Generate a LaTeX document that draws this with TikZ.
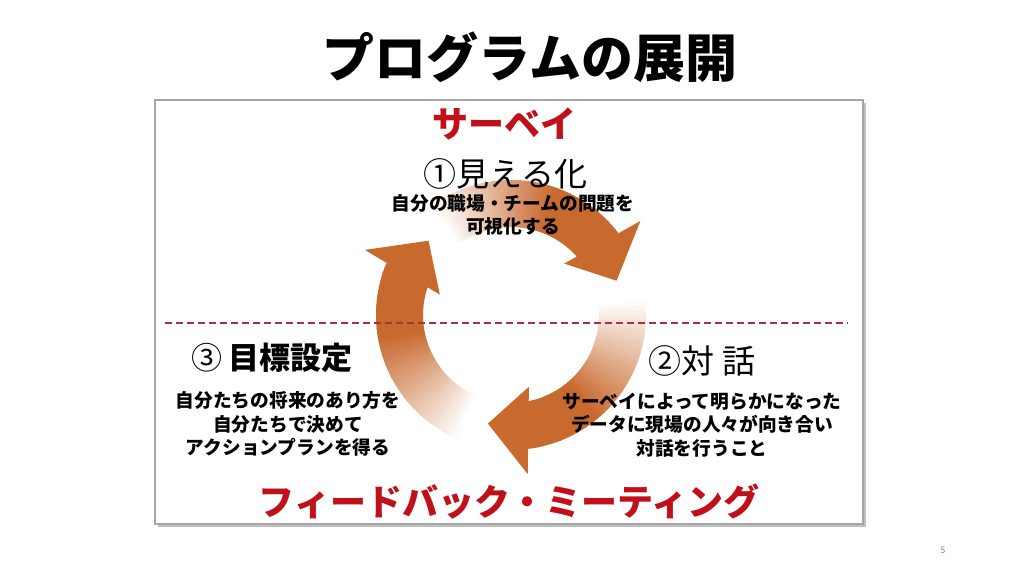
\documentclass[tikz,border=0pt]{standalone}
\usepackage{fontspec}
\newfontfamily\jp{Noto Sans CJK JP}
\newfontfamily\pagefont{Carlito}
\usepackage{xcolor}

\definecolor{arroworange}{RGB}{200,105,46}
\definecolor{labelred}{RGB}{192,16,26}
\definecolor{linered}{RGB}{170,50,60}

\tikzset{
    heading/.style={font=\jp\bfseries\fontsize{52}{58}\selectfont},
    phase/.style={font=\jp\bfseries\fontsize{36}{42}\selectfont, text=labelred},
    stepname/.style={font=\jp\fontsize{33}{38}\selectfont},
    steptext/.style={font=\jp\bfseries\fontsize{18.7}{23.5}\selectfont, align=center},
    pagenum/.style={font=\pagefont\fontsize{10}{12}\selectfont, text=gray}
}

\begin{document}
\begin{tikzpicture}[x=1pt, y=1pt]
        \useasboundingbox (0,0) rectangle (1024,576);
        \fill[gray!50] (158,49) rectangle (866,473);
        \draw[gray!70, fill=white, line width=1.5pt] (155,52) rectangle (863,476);

        \begin{scope}[shift={(511,261)}]
            \foreach \tl/\bs in {128/40, 8/-80, 248/160} {
                \foreach \n [evaluate=\n as \sa using \tl-2*\n,
                             evaluate=\n as \ea using \tl-2*\n-2.6,
                             evaluate=\n as \pc using {min(100,3.5*\n)}] in {0,...,44}
                    \fill[arroworange!\pc!white] (\sa:88pt) arc[start angle=\sa, end angle=\ea, radius=88pt]
                        -- (\ea:135pt) arc[start angle=\ea, end angle=\sa, radius=135pt] -- cycle;
                \fill[arroworange] (\bs+4:74pt) -- (\bs-22:111pt) -- (\bs-4:160pt) -- cycle;
            }
        \end{scope}

        \coordinate (dashL) at (165,253);
        \coordinate (dashR) at (848,253);
        \draw[linered, line width=2pt, dash pattern=on 7pt off 4pt] (dashL) -- (dashR);

        \node[heading]  (title)     at (530,519) {プログラムの展開};
        \node[phase]    (survey)    at (504,452) {サーベイ};
        \node[stepname] (see)       at (505,402) {①見える化};
        \node[steptext] (seetext)   at (513,361) {自分の職場・チームの問題を\\可視化する};
        \node[stepname, font=\jp\fontsize{31}{36}\selectfont] (goal) at (272,218) {③ {\bfseries 目標設定}};
        \node[steptext] (goaltext)  at (288,152) {自分たちの将来のあり方を\\自分たちで決めて\\アクションプランを得る};
        \node[stepname] (talk)      at (702,215) {②対\hspace{8pt}話};
        \node[steptext] (talktext)  at (702,151) {サーベイによって明らかになった\\データに現場の人々が向き合い\\対話を行うこと};
        \node[phase]    (feedback)  at (509,74)  {フィードバック・ミーティング};
        \node[pagenum]  (page)      at (943,26)  {5};
\end{tikzpicture}
\end{document}
